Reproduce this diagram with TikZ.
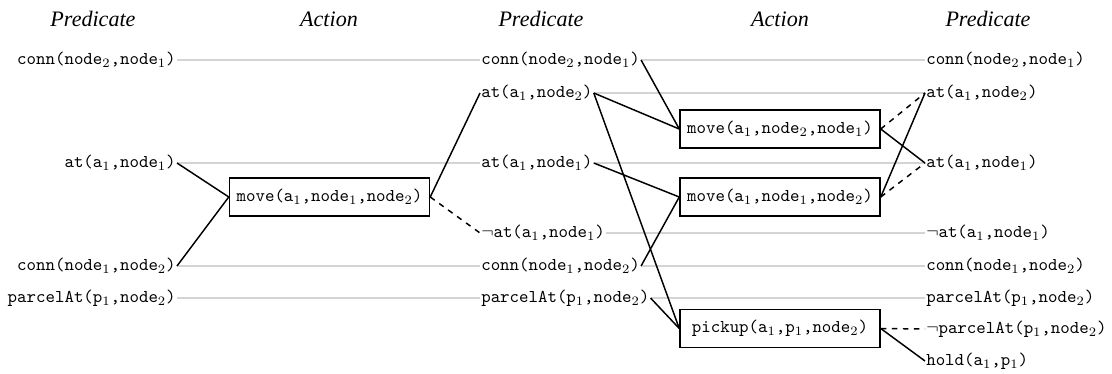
\documentclass[tikz,border=0pt]{standalone}
\usepackage{fontspec}
\usepackage{tikz}
\usetikzlibrary{positioning}
\newfontfamily\headfont{Liberation Serif}

\begin{document}
\begin{tikzpicture}
  [
    x=0.5435pt, y=-0.5435pt,
    pred/.style={font=\fontsize{9.8}{12}\ttfamily, inner sep=0.5pt},
    act/.style={draw, rectangle, font=\fontsize{9.8}{12}\ttfamily, minimum height=20.6pt, minimum width=108.7pt, thick},
    head/.style={font=\large\headfont\itshape},
    keep/.style={draw=black!17, thick},
    add/.style={thick},
    del/.style={thick, dashed}
  ]
    \useasboundingbox (0,0) rectangle (1112,374);
    % =========================================================================
    % HEADERS
    % =========================================================================
    \node [head] (h1) at (93,19) {Predicate};
    \node [head] (h2) at (329,19) {Action};
    \node [head] (h3) at (541,19) {Predicate};
    \node [head] (h4) at (780,19) {Action};
    \node [head] (h5) at (988,19) {Predicate};

    % =========================================================================
    % NODES
    % =========================================================================
    % --- LEVEL 0 ---
    \node [pred, anchor=east] (conn21a) at (177,60) {conn(node$_2$,node$_1$)};
    \node [pred, anchor=east] (at1a) at (177,163) {at(a$_1$,node$_1$)};
    \node [pred, anchor=east] (conn12a) at (177,266) {conn(node$_1$,node$_2$)};
    \node [pred, anchor=east] (parcela) at (177,298) {parcelAt(p$_1$,node$_2$)};

    \node [act] (move12a) at (329.5,197) {move(a$_1$,node$_1$,node$_2$)};

    % --- LEVEL 1 ---
    \node [pred, anchor=west] (conn21b) at (480,60) {conn(node$_2$,node$_1$)};
    \node [pred, anchor=west] (at2b) at (480,93) {at(a$_1$,node$_2$)};
    \node [pred, anchor=west] (at1b) at (480,163) {at(a$_1$,node$_1$)};
    \node [pred, anchor=west] (nat1b) at (480,233) {$\neg$at(a$_1$,node$_1$)};
    \node [pred, anchor=west] (conn12b) at (480,266) {conn(node$_1$,node$_2$)};
    \node [pred, anchor=west] (parcelb) at (480,298) {parcelAt(p$_1$,node$_2$)};

    \node [act] (move21b) at (780,129) {move(a$_1$,node$_2$,node$_1$)};
    \node [act] (move12b) at (780,197) {move(a$_1$,node$_1$,node$_2$)};
    \node [act] (pickupb) at (780,328.5) {pickup(a$_1$,p$_1$,node$_2$)};

    % --- LEVEL 2 ---
    \node [pred, anchor=west] (conn21c) at (925,60) {conn(node$_2$,node$_1$)};
    \node [pred, anchor=west] (at2c) at (925,93) {at(a$_1$,node$_2$)};
    \node [pred, anchor=west] (at1c) at (925,163) {at(a$_1$,node$_1$)};
    \node [pred, anchor=west] (nat1c) at (925,233) {$\neg$at(a$_1$,node$_1$)};
    \node [pred, anchor=west] (conn12c) at (925,266) {conn(node$_1$,node$_2$)};
    \node [pred, anchor=west] (parcelc) at (925,298) {parcelAt(p$_1$,node$_2$)};
    \node [pred, anchor=west] (nparcelc) at (925,329) {$\neg$parcelAt(p$_1$,node$_2$)};
    \node [pred, anchor=west] (holdc) at (925,361) {hold(a$_1$,p$_1$)};

    % =========================================================================
    % PATHS
    % =========================================================================
    % --- PERSISTENCE ---
    \draw [keep] (conn21a.east) -- (conn21b.west);
    \draw [keep] (at1a.east) -- (at1b.west);
    \draw [keep] (conn12a.east) -- (conn12b.west);
    \draw [keep] (parcela.east) -- (parcelb.west);
    \draw [keep] (conn21b.east) -- (conn21c.west);
    \draw [keep] (at2b.east) -- (at2c.west);
    \draw [keep] (at1b.east) -- (at1c.west);
    \draw [keep] (nat1b.east) -- (nat1c.west);
    \draw [keep] (conn12b.east) -- (conn12c.west);
    \draw [keep] (parcelb.east) -- (parcelc.west);
    % --- PRECONDITIONS ---
    \draw [add] (at1a.east) -- (move12a.west);
    \draw [add] (conn12a.east) -- (move12a.west);
    \draw [add] (conn21b.east) -- (move21b.west);
    \draw [add] (at2b.east) -- (move21b.west);
    \draw [add] (at1b.east) -- (move12b.west);
    \draw [add] (conn12b.east) -- (move12b.west);
    \draw [add] (at2b.east) -- (pickupb.west);
    \draw [add] (parcelb.east) -- (pickupb.west);
    % --- EFFECTS ---
    \draw [add] (move12a.east) -- (at2b.west);
    \draw [del] (move12a.east) -- (nat1b.west);
    \draw [del] (move21b.east) -- (at2c.west);
    \draw [add] (move21b.east) -- (at1c.west);
    \draw [add] (move12b.east) -- (at2c.west);
    \draw [del] (move12b.east) -- (at1c.west);
    \draw [del] (pickupb.east) -- (nparcelc.west);
    \draw [add] (pickupb.east) -- (holdc.west);

  \end{tikzpicture}
\end{document}
